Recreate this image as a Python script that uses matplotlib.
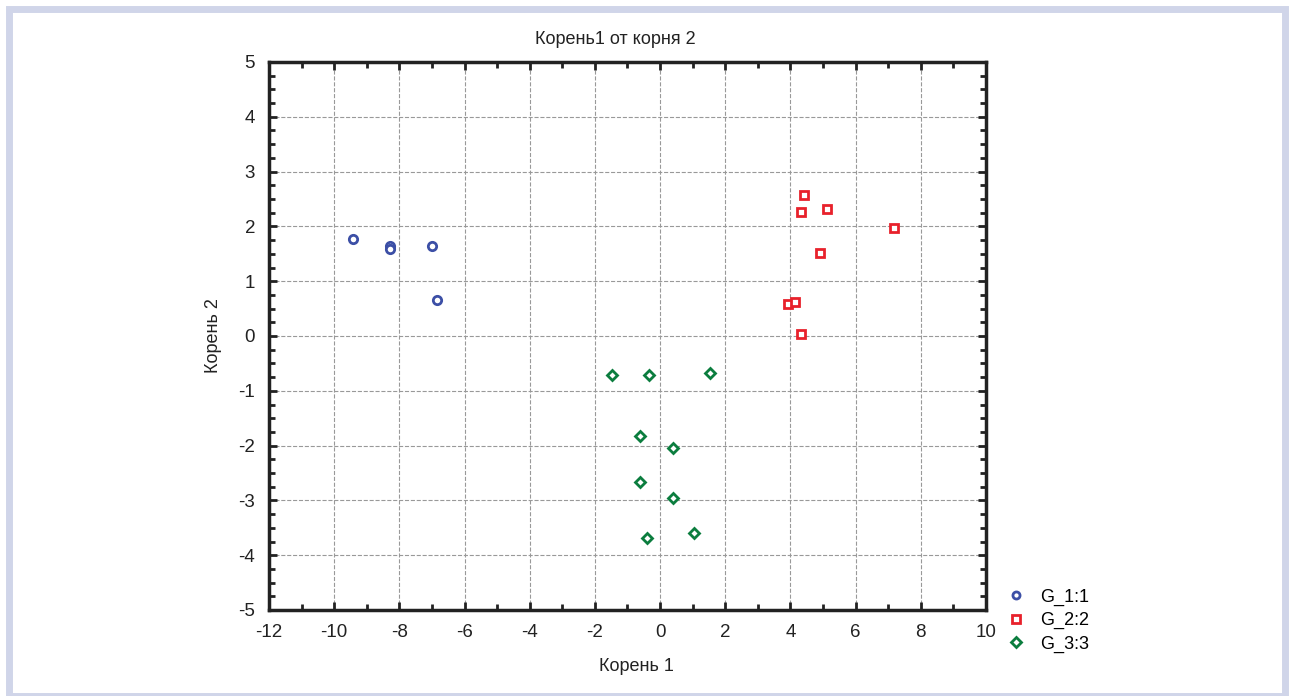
import matplotlib
matplotlib.use("Agg")
import matplotlib.pyplot as plt
from matplotlib.patches import Rectangle
from matplotlib.ticker import MultipleLocator

plt.rcParams['font.family'] = ['Liberation Sans', 'DejaVu Sans']
plt.rcParams['axes.unicode_minus'] = False

# точки по группам (Корень 1, Корень 2)
g1_x = [-9.43, -8.29, -8.29, -7.00, -6.86]
g1_y = [1.765, 1.64, 1.58, 1.64, 0.657]

g2_x = [4.43, 4.33, 5.13, 7.19, 4.91, 3.92, 4.14, 4.33]
g2_y = [2.57, 2.27, 2.31, 1.97, 1.51, 0.578, 0.615, 0.03]

g3_x = [-1.47, -0.33, 1.52, -0.62, 0.39, -0.62, 0.39, -0.40, 1.03]
g3_y = [-0.71, -0.71, -0.68, -1.82, -2.04, -2.67, -2.96, -3.69, -3.60]

labels = ['G_1:1', 'G_2:2', 'G_3:3']

fig = plt.figure(figsize=(12.93, 6.96), dpi=100)
ax = fig.add_axes([269 / 1293, 1 - 610 / 696, 717 / 1293, 548 / 696])

ax.plot(g1_x, g1_y, 'o', ms=6, mfc='white', mec='#3c4fa6', mew=2, ls='none', label=labels[0])
ax.plot(g2_x, g2_y, 's', ms=6, mfc='white', mec='#e8212b', mew=2, ls='none', label=labels[1])
ax.plot(g3_x, g3_y, 'D', ms=5.5, mfc='white', mec='#0b7d3e', mew=2, ls='none', label=labels[2])

ax.set_xlim(-12, 10)
ax.set_ylim(-5, 5)
ax.xaxis.set_major_locator(MultipleLocator(2))
ax.xaxis.set_minor_locator(MultipleLocator(1))
ax.yaxis.set_major_locator(MultipleLocator(1))
ax.yaxis.set_minor_locator(MultipleLocator(0.25))
ax.tick_params(which='both', direction='in', top=True, right=True, width=2, labelsize=13.5, colors='#222222')
ax.tick_params(which='major', length=6, pad=10)
ax.tick_params(which='minor', length=4)
ax.grid(True, which='major', ls='--', color='#999999', lw=0.8)
for s in ax.spines.values():
    s.set_linewidth(2.5)
    s.set_color('#222222')

ax.set_title('Корень1 от корня 2', fontsize=13, color='#222222', x=0.483, pad=13)
ax.set_xlabel('Корень 1', fontsize=13, color='#222222', labelpad=12, x=0.513)
ax.set_ylabel('Корень 2', fontsize=13, color='#222222', labelpad=12)

ax.legend(loc='lower left', bbox_to_anchor=(1.008, -0.108), frameon=False,
          fontsize=13, handletextpad=0.9, labelspacing=0.36, handlelength=0.9,
          markerscale=0.85)

fig.patches.append(Rectangle((9 / 1293, 0), 1 - 17 / 1293, 1 - 9 / 696,
                             transform=fig.transFigure, fill=False,
                             ec='#d0d5e9', lw=5, zorder=-1))

fig.savefig('out.png', dpi=100)
